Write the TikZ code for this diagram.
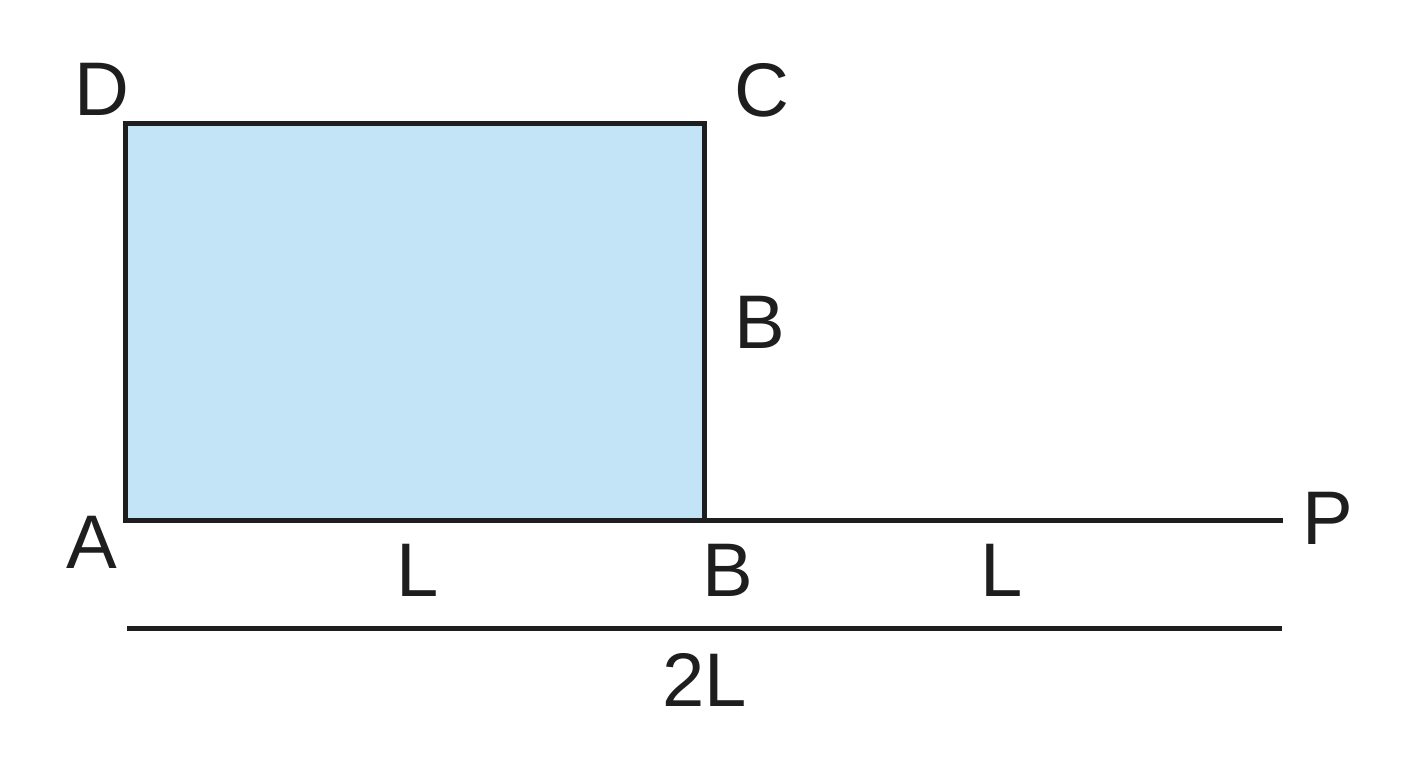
\documentclass[tikz,border=0pt]{standalone}
\usepackage{fontspec}
\setmainfont{Liberation Sans}
\definecolor{rectfill}{HTML}{C2E4F6}
\definecolor{ink}{HTML}{1E1E1E}
\begin{document}
\begin{tikzpicture}[x=1pt,y=-1pt,
  lbl/.style={font=\fontsize{76}{76}\selectfont, text=ink, inner sep=0pt},
  edge/.style={draw=ink, line width=5pt}]
\useasboundingbox (0,0) rectangle (1408,768);
\coordinate (A) at (125,520);
\coordinate (Bp) at (704,520);
\coordinate (Cp) at (704,123);
\coordinate (Dp) at (125,123);
\coordinate (Pp) at (1283,520);
\coordinate (M1) at (127,628);
\coordinate (M2) at (1282,628);
\fill[rectfill] (A) rectangle (Cp);
\draw[edge, line join=miter] (A) -- (Bp) -- (Cp) -- (Dp) -- cycle;
\draw[edge] (Bp) -- (Pp);
\draw[edge] (M1) -- (M2);
\node[lbl] (lD) at (102,89) {D};
\node[lbl] (lC) at (762,90) {C};
\node[lbl] (lB1) at (760,322) {B};
\node[lbl] (lA) at (92,542) {A};
\node[lbl] (lL1) at (418,570) {L};
\node[lbl] (lB2) at (728,570) {B};
\node[lbl] (lL2) at (1002,570) {L};
\node[lbl] (lP) at (1328,518) {P};
\node[lbl] (l2L) at (705,680) {2L};
\end{tikzpicture}
\end{document}
